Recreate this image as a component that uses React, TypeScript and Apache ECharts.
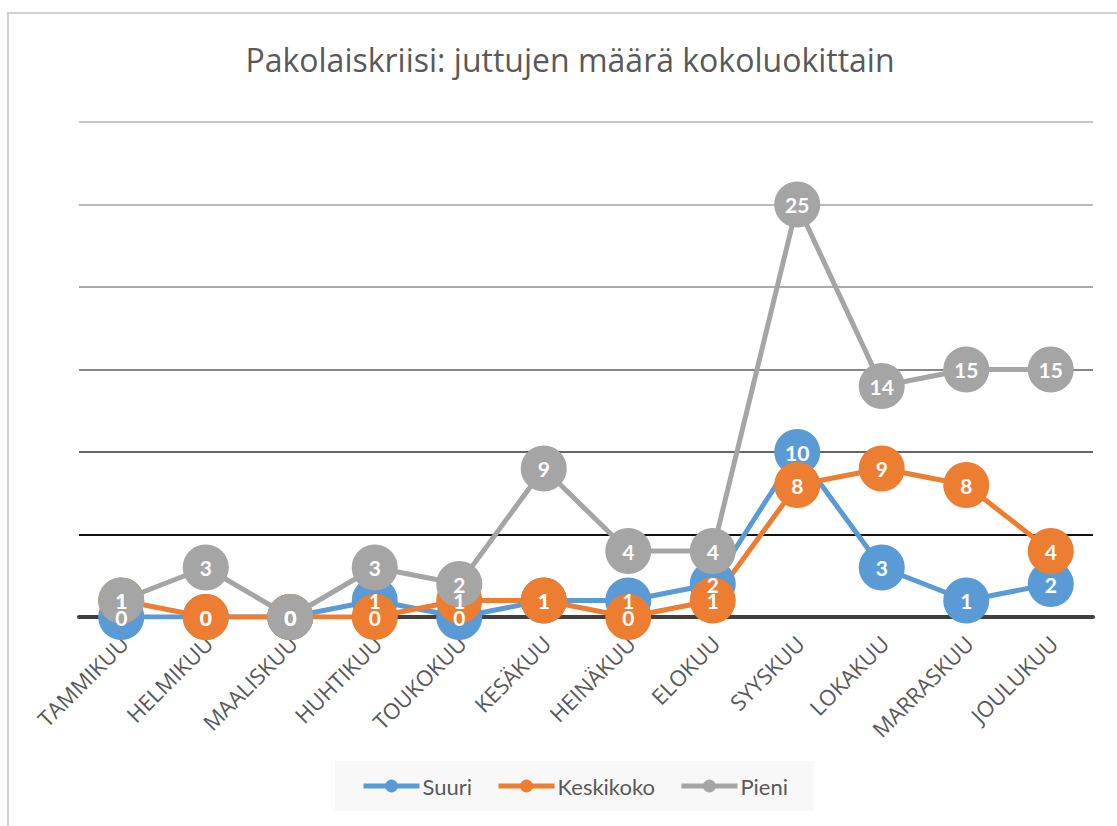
import React, { useEffect, useRef } from "react";
import * as echarts from "echarts";

const categories = [
  "TAMMIKUU", "HELMIKUU", "MAALISKUU", "HUHTIKUU", "TOUKOKUU", "KESÄKUU",
  "HEINÄKUU", "ELOKUU", "SYYSKUU", "LOKAKUU", "MARRASKUU", "JOULUKUU",
];
const seriesNames = ["Suuri", "Keskikoko", "Pieni"];
const suuri = [0, 0, 0, 1, 0, 1, 1, 2, 10, 3, 1, 2];
const keskikoko = [1, 0, 0, 0, 1, 1, 0, 1, 8, 9, 8, 4];
const pieni = [1, 3, 0, 3, 2, 9, 4, 4, 25, 14, 15, 15];
const colors = ["#5B9BD5", "#ED7D31", "#A5A5A5"];
const titleText = "Pakolaiskriisi: juttujen määrä kokoluokittain";

export default function App() {
  const ref = useRef<HTMLDivElement>(null);
  useEffect(() => {
    document.body.style.margin = "0";
    if (!ref.current) return;
    const chart = echarts.init(ref.current, null, { renderer: "svg" });
    const values = [suuri, keskikoko, pieni];
    const lineSeries = values.map((d, i) => ({
      name: seriesNames[i],
      type: "line",
      data: d,
      symbol: "circle",
      symbolSize: 46,
      z: 2,
      lineStyle: { color: colors[i], width: 5 },
      itemStyle: { color: colors[i] },
      label: { show: false },
      emphasis: { disabled: true },
    }));
    const labelSeries = values.map((d, i) => ({
      name: seriesNames[i] + "_label",
      type: "line",
      data: d,
      symbol: "circle",
      symbolSize: 2,
      z: 5,
      lineStyle: { width: 0, opacity: 0 },
      itemStyle: { color: "rgba(0,0,0,0)" },
      label: {
        show: true,
        position: "inside",
        color: "#ffffff",
        fontFamily: "Lato",
        fontWeight: "bold",
        fontSize: 21,
      },
      emphasis: { disabled: true },
      tooltip: { show: false },
    }));
    chart.setOption({
      animation: false,
      backgroundColor: "#ffffff",
      title: {
        text: titleText,
        left: 570,
        top: 43,
        textAlign: "center",
        padding: 0,
        textStyle: {
          fontFamily: "Open Sans",
          fontSize: 32,
          fontWeight: "normal",
          color: "#595959",
        },
      },
      graphic: [
        {
          type: "rect",
          shape: { x: 8, y: 13, width: 1300, height: 1000 },
          style: { fill: "none", stroke: "#d0d0d0", lineWidth: 2 },
          silent: true,
          z: -10,
        },
      ],
      legend: {
        data: seriesNames,
        left: 335,
        top: 761,
        padding: [14, 26, 14, 26],
        itemGap: 24,
        itemWidth: 56,
        itemHeight: 16,
        backgroundColor: "#f8f8f8",
        lineStyle: { width: 5 },
        textStyle: { fontFamily: "Lato", fontSize: 22, color: "#595959", padding: [0, 0, 0, -2] },
      },
      grid: { left: 79, right: 24, top: 122, bottom: 209 },
      xAxis: {
        type: "category",
        data: categories,
        boundaryGap: true,
        axisLine: { show: true, lineStyle: { color: "#404040", width: 4 } },
        axisTick: { show: false },
        axisLabel: {
          rotate: 45,
          interval: 0,
          margin: 25,
          padding: [0, -4, 0, 0],
          fontFamily: "Open Sans",
          fontSize: 22,
          color: "#595959",
        },
      },
      yAxis: {
        type: "value",
        min: 0,
        max: 30,
        interval: 5,
        axisLabel: { show: false },
        axisLine: { show: false },
        axisTick: { show: false },
        splitLine: {
          show: true,
          lineStyle: {
            color: ["#404040", "#111111", "#666666", "#888888", "#aaaaaa", "#bbbbbb", "#c8c8c8"],
            width: 2,
          },
        },
      },
      series: [...lineSeries, ...labelSeries],
    });
    return () => chart.dispose();
  }, []);
  return <div ref={ref} style={{ width: 1117, height: 826 }} />;
}
